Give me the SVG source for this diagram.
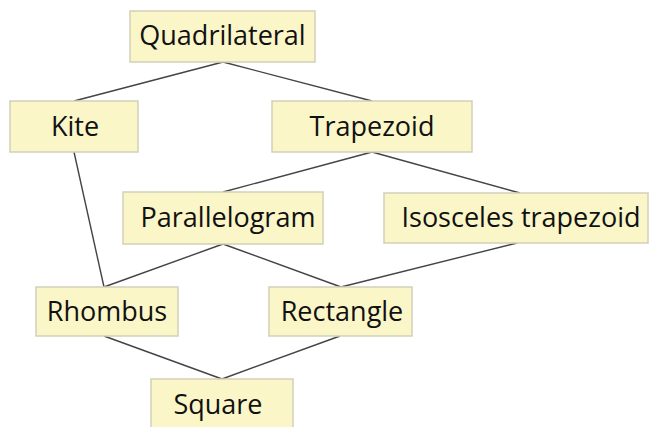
<svg xmlns="http://www.w3.org/2000/svg" width="651" height="427" viewBox="0 0 651 427">
<style>
.box{fill:#faf6c8;stroke:#d2d0b8;stroke-width:1.5}
.lbl{font-family:"Open Sans","Noto Sans",sans-serif;font-size:27px;fill:#111;text-anchor:middle}
.edge{stroke:#444;stroke-width:1.4;fill:none}
</style>
<rect width="651" height="427" fill="#fff"/>
<g id="connectors">
<line class="edge" x1="223" y1="62" x2="74" y2="101"/>
<line class="edge" x1="223" y1="62" x2="372" y2="101"/>
<line class="edge" x1="74" y1="152" x2="104" y2="287"/>
<line class="edge" x1="372" y1="152" x2="223" y2="192"/>
<line class="edge" x1="372" y1="152" x2="520" y2="193"/>
<line class="edge" x1="223" y1="244" x2="104" y2="287"/>
<line class="edge" x1="223" y1="244" x2="341" y2="287"/>
<line class="edge" x1="517" y1="243" x2="341" y2="287"/>
<line class="edge" x1="104" y1="336" x2="222" y2="379"/>
<line class="edge" x1="340" y1="336" x2="222" y2="379"/>
</g>
<g id="quadrilateral"><rect class="box" x="130" y="11" width="185" height="51"/><text class="lbl" x="222.5" y="45">Quadrilateral</text></g>
<g id="kite"><rect class="box" x="10" y="101" width="128" height="51"/><text class="lbl" x="75" y="136">Kite</text></g>
<g id="trapezoid"><rect class="box" x="272" y="101" width="200" height="51"/><text class="lbl" x="372" y="136">Trapezoid</text></g>
<g id="parallelogram"><rect class="box" x="123" y="192" width="200" height="52"/><text class="lbl" x="228" y="227">Parallelogram</text></g>
<g id="isosceles"><rect class="box" x="384" y="193" width="264" height="50"/><text class="lbl" x="521" y="227">Isosceles trapezoid</text></g>
<g id="rhombus"><rect class="box" x="36" y="287" width="142" height="49"/><text class="lbl" x="107" y="321">Rhombus</text></g>
<g id="rectangle"><rect class="box" x="269" y="287" width="143" height="49"/><text class="lbl" x="342" y="321">Rectangle</text></g>
<g id="square"><rect class="box" x="151" y="379" width="142" height="55"/><text class="lbl" x="218" y="414">Square</text></g>
</svg>
